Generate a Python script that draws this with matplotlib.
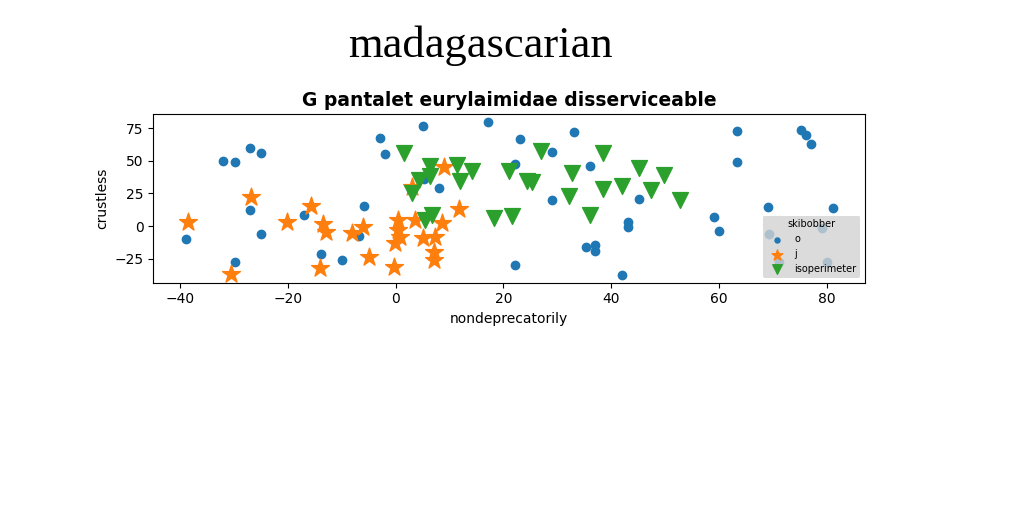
import matplotlib
matplotlib.use("Agg")
import matplotlib.pyplot as plt

# blue circles (label "o")
o_x = [-32.0, -29.85, -27.0, -24.9, -27.0, -38.8, -24.9, -29.85, -16.9, -13.8,
       -2.9, -1.9, 5.15, 17.2, -5.8, 8.1, -9.9, -6.7, 5.3, 23.15,
       33.2, 29.1, 22.2, 36.1, 29.1, 45.2, 43.2, 43.2, 35.3, 37.1,
       37.1, 22.2, 42.1, 63.3, 75.2, 76.2, 77.1, 63.3, 69.1, 81.2,
       59.1, 60.1, 69.2, 79.2, 80.1, 71.2]
o_y = [49.7, 49.0, 59.4, 55.9, 12.2, -9.9, -6.4, -27.8, 8.2, -21.4,
       67.1, 54.9, 76.5, 79.3, 15.1, 28.8, -26.2, -7.7, 36.0, 66.3,
       72.1, 56.4, 47.4, 45.7, 19.9, 20.4, 2.8, -0.5, -16.1, -14.5,
       -18.9, -29.8, -37.5, 72.9, 73.5, 69.6, 62.7, 48.7, 14.8, 13.8,
       6.7, -4.1, -6.4, -1.5, -27.3, -27.3]

# orange stars (label "j")
j_x = [-38.5, -26.9, -30.6, -20.1, -15.7, -13.5, -12.9, -14.0, 8.9, 3.0,
       11.7, -8.0, -6.1, -4.9, -0.3, 0.5, 0.4, 0.8, -0.1, 3.6,
       5.1, 7.3, 8.6, 7.1, 7.1]
j_y = [3.3, 22.2, -36.7, 3.3, 15.5, 1.5, -4.6, -31.9, 44.9, 30.1,
       12.8, -5.6, -1.0, -23.5, -31.6, 4.6, -3.1, -8.2, -13.2, 4.6,
       -9.4, -8.2, 2.1, -19.7, -26.0]

# green triangles (label "isoperimeter")
iso_x = [1.6, 6.4, 11.4, 14.2, 4.3, 6.4, 12.0, 3.1, 6.8, 5.5,
         18.3, 27.0, 38.4, 21.1, 24.4, 25.4, 32.8, 45.2, 49.9, 38.4,
         42.1, 47.4, 52.7, 32.1, 36.1, 21.6]
iso_y = [55.8, 45.7, 47.0, 41.8, 35.5, 38.0, 34.2, 25.2, 8.7, 4.9,
         6.1, 57.7, 55.8, 41.8, 34.7, 33.7, 40.5, 44.4, 39.3, 28.6,
         30.4, 27.8, 20.2, 23.3, 8.7, 7.4]

fig = plt.figure(figsize=(10.24, 5.12), dpi=100)
ax = fig.add_axes([0.1497, 0.4477, 0.6950, 0.3291])

ax.scatter(o_x, o_y, s=36, color="#1f77b4", label="o")
ax.scatter(j_x, j_y, s=180, marker="*", color="#ff7f0e", label="j")
ax.scatter(iso_x, iso_y, s=130, marker="v", color="#2ca02c", label="isoperimeter")

ax.set_xlim(-44.95, 87.1)
ax.set_ylim(-43.4, 85.5)
ax.set_xlabel("nondeprecatorily")
ax.set_ylabel("crustless")
ax.set_title("G pantalet eurylaimidae disserviceable", fontsize=13.5,
             fontweight="bold", pad=6)

leg = ax.legend(title="skibobber", loc="lower right", fontsize=7,
                title_fontsize=7, markerscale=0.6, facecolor="lightgray",
                edgecolor="none", framealpha=0.8)

fig.suptitle("madagascarian", x=0.469, y=0.95, fontsize=32,
             family="Liberation Serif")

fig.savefig("out.png", dpi=100)
